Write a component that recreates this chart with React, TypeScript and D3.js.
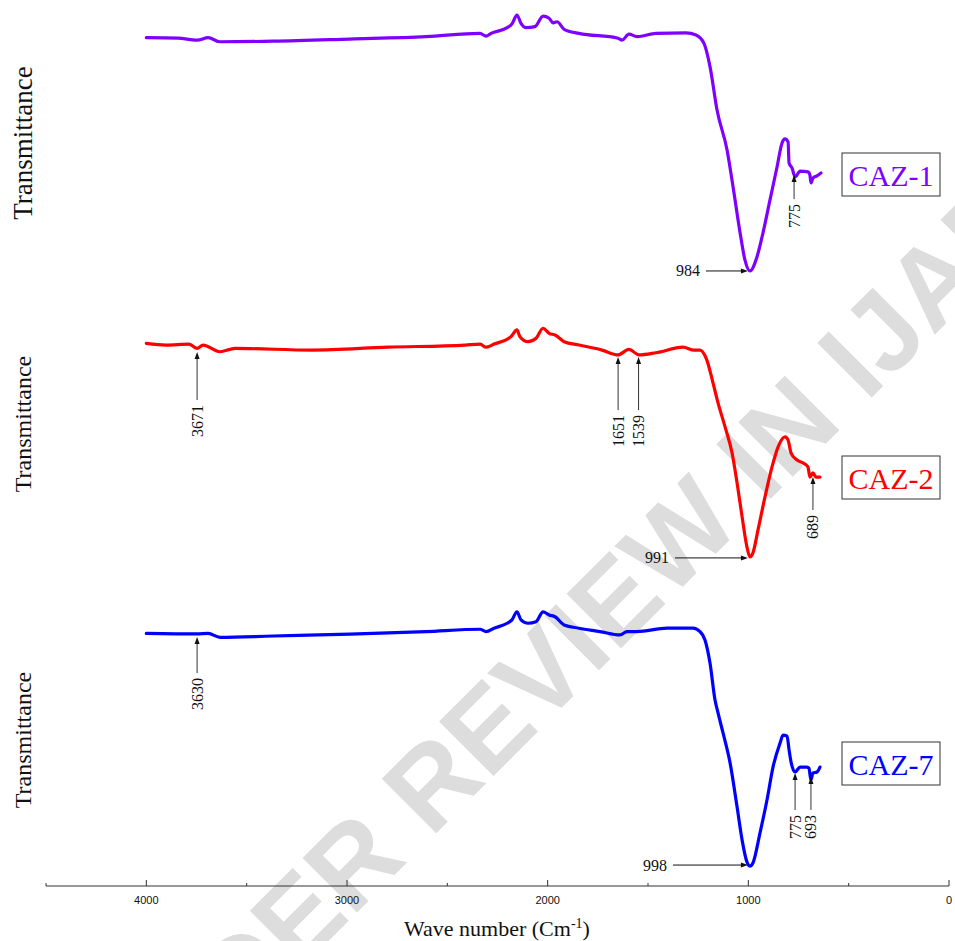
import React from 'react'
import * as d3 from 'd3'

// [wave number (cm-1), transmittance (a.u.)]
const caz1 = [
  [4000, 91.6], [3842, 91.4], [3747, 90.7], [3692, 91.6], [3633, 90.1], [3369, 90.3],
  [2985, 91.1], [2606, 92.0], [2337, 93.2], [2307, 92.2], [2282, 93.2], [2202, 95.3],
  [2178, 96.7], [2153, 100], [2133, 96.9], [2108, 95.3], [2063, 95.7], [2023, 99.6],
  [1993, 98.8], [1973, 97.1], [1953, 97.5], [1918, 94.7], [1844, 93.2], [1649, 91.4],
  [1629, 90.7], [1595, 92.9], [1555, 92.0], [1460, 93.2], [1311, 93.4], [1261, 92.6],
  [1221, 89.5], [1191, 80.9], [1156, 64.8], [1106, 50.0], [1076, 36.3], [1041, 19.3],
  [1017, 9.3], [992, 5.2], [957, 10.4], [927, 19.3], [892, 31.5], [857, 43.7],
  [832, 52.6], [817, 54.1], [802, 53.0], [797, 45.2], [782, 43.3], [767, 40.0],
  [742, 42.2], [703, 41.9], [693, 40.7], [688, 37.8], [678, 39.6], [658, 40.4], [638, 41.5],
]

const caz2 = [
  [4000, 91.1], [3902, 90.4], [3787, 90.8], [3747, 89.0], [3717, 90.4], [3633, 87.6],
  [3558, 89.0], [3174, 88.3], [2795, 89.5], [2412, 90.4], [2337, 90.8], [2307, 89.5],
  [2267, 90.8], [2183, 93.9], [2153, 96.7], [2138, 93.9], [2098, 91.8], [2058, 93.2],
  [2023, 97.4], [1993, 95.3], [1963, 94.6], [1918, 91.8], [1844, 90.4], [1729, 88.3],
  [1649, 86.3], [1595, 88.6], [1545, 86.3], [1460, 87.2], [1325, 89.5], [1271, 88.3],
  [1241, 88.3], [1207, 84.2], [1176, 74.6], [1151, 66.3], [1116, 56.3], [1081, 45.4],
  [1056, 32.9], [1031, 18.8], [1007, 6.3], [992, 2.1], [977, 3.8], [952, 13.3],
  [917, 27.1], [882, 39.6], [852, 47.9], [817, 52.1], [802, 50.8], [787, 45.4],
  [757, 42.5], [728, 41.3], [703, 39.6], [693, 35.4], [678, 37.1], [663, 35.4], [643, 35.4],
]

const caz7 = [
  [4000, 91.0], [3747, 90.8], [3692, 91.0], [3633, 89.5], [3369, 90.0], [2985, 90.7],
  [2606, 91.7], [2337, 92.6], [2307, 91.7], [2267, 93.0], [2202, 94.9], [2178, 96.2],
  [2153, 99.3], [2133, 96.2], [2098, 94.9], [2058, 95.5], [2023, 99.3], [1993, 98.1],
  [1963, 97.4], [1918, 94.2], [1844, 93.0], [1739, 91.7], [1639, 90.4], [1605, 91.7],
  [1555, 91.7], [1405, 93.0], [1276, 93.0], [1241, 91.7], [1216, 88.5], [1191, 79.6],
  [1166, 65.4], [1151, 60.4], [1126, 52.7], [1091, 41.2], [1056, 24.2], [1031, 11.5],
  [1007, 3.1], [992, 1.5], [977, 2.7], [942, 14.2], [907, 26.9], [877, 39.6],
  [842, 48.8], [827, 51.9], [807, 51.5], [797, 46.2], [787, 41.5], [767, 37.7],
  [742, 39.6], [708, 39.6], [698, 39.2], [688, 34.6], [678, 37.3], [658, 37.7], [643, 39.6],
]

// peak labels: label, where the arrow points (wave number, transmittance)
const caz1Peaks = [
  { label: '984', wn: 1002, t: 5.2, kind: 'h', len: 42 },
  { label: '775', wn: 772, t: 40.7, kind: 'v', len: 24 },
]
const caz2Peaks = [
  { label: '3671', wn: 3747, t: 87.5, kind: 'v', len: 48 },
  { label: '1651', wn: 1649, t: 85.4, kind: 'v', len: 53 },
  { label: '1539', wn: 1547, t: 85.4, kind: 'v', len: 53 },
  { label: '991', wn: 1002, t: 1.7, kind: 'h', len: 73 },
  { label: '689', wn: 678, t: 35.4, kind: 'v', len: 33 },
]
const caz7Peaks = [
  { label: '3630', wn: 3747, t: 89.6, kind: 'v', len: 36 },
  { label: '998', wn: 1002, t: 1.9, kind: 'h', len: 75 },
  { label: '775', wn: 767, t: 37.3, kind: 'v', len: 37 },
  { label: '693', wn: 688, t: 35.8, kind: 'v', len: 33 },
]

const majorTicks = [4000, 3000, 2000, 1000, 0]
const minorTicks = [4500, 3500, 2500, 1500, 500]

const panels = [
  { name: 'CAZ-1', color: '#8000ff', data: caz1, peaks: caz1Peaks, yRange: [285, 15], labelY: 143, labelSize: 27, boxY: 153 },
  { name: 'CAZ-2', color: '#ff0000', data: caz2, peaks: caz2Peaks, yRange: [562, 322], labelY: 424, labelSize: 24, boxY: 456 },
  { name: 'CAZ-7', color: '#0000ff', data: caz7, peaks: caz7Peaks, yRange: [870, 610], labelY: 740, labelSize: 24, boxY: 742 },
]

const serif = '"Liberation Serif", "Times New Roman", Times, serif'
const sans = '"Liberation Sans", Arial, Helvetica, sans-serif'

const W = 955
const H = 941
const axisY = 886

const x = d3.scaleLinear().domain([4500, 0]).range([46, 949])

const Peak = ({ p, y }) => {
  const px = x(p.wn)
  const py = y(p.t)
  if (p.kind === 'h') {
    const x0 = px - p.len
    return (
      <g>
        <line x1={x0} y1={py} x2={px - 6} y2={py} stroke="#111" strokeWidth={1} />
        <path d={`M${px},${py} L${px - 7},${py - 2.5} L${px - 7},${py + 2.5} Z`} fill="#111" />
        <text x={x0 - 6} y={py} textAnchor="end" dominantBaseline="central"
          fontFamily={serif} fontSize={16} fill="#111">{p.label}</text>
      </g>
    )
  }
  const y1 = py + p.len
  return (
    <g>
      <line x1={px} y1={py + 6} x2={px} y2={y1} stroke="#333" strokeWidth={1} />
      <path d={`M${px},${py} L${px - 2.5},${py + 7} L${px + 2.5},${py + 7} Z`} fill="#111" />
      <text transform={`translate(${px},${y1 + 5}) rotate(-90)`} textAnchor="end"
        dominantBaseline="central" fontFamily={serif} fontSize={16} fill="#111">{p.label}</text>
    </g>
  )
}

const Panel = ({ panel }) => {
  const y = d3.scaleLinear().domain([0, 100]).range(panel.yRange)
  const line = d3.line()
    .x(d => x(d[0]))
    .y(d => y(d[1]))
    .curve(d3.curveMonotoneX)
  return (
    <g>
      <path d={line(panel.data)} fill="none" stroke={panel.color} strokeWidth={3.2}
        strokeLinejoin="round" strokeLinecap="round" />
      {panel.peaks.map(p => <Peak key={p.label + p.wn} p={p} y={y} />)}
      <text transform={`translate(23,${panel.labelY}) rotate(-90)`} textAnchor="middle"
        dominantBaseline="central" fontFamily={serif} fontSize={panel.labelSize} fill="#111">
        Transmittance
      </text>
      <rect x={842} y={panel.boxY} width={98} height={43} fill="#fff" stroke="#333" strokeWidth={1} />
      <text x={891} y={panel.boxY + 22} textAnchor="middle" dominantBaseline="central"
        fontFamily={serif} fontSize={30} fill={panel.color}>{panel.name}</text>
    </g>
  )
}

export default function App() {
  return (
    <svg width={W} height={H} style={{ position: 'absolute', left: 0, top: 0, background: '#fff' }}>
      <rect width={W} height={H} fill="#fff" />
      {/* watermark, runs off the page like in the source */}
      <text transform="translate(560,655) rotate(-45)" textAnchor="middle" dominantBaseline="central"
        fontFamily={sans} fontSize={112} fontWeight="bold" fill="#dddddd">UNDER REVIEW IN IJAR</text>

      {panels.map(p => <Panel key={p.name} panel={p} />)}

      {/* x axis */}
      <line x1={x(4500)} x2={x(0)} y1={axisY} y2={axisY} stroke="#333" strokeWidth={1.2} />
      {majorTicks.map(t => (
        <g key={t}>
          <line x1={x(t)} x2={x(t)} y1={axisY} y2={axisY - 6} stroke="#333" strokeWidth={1} />
          <text x={x(t)} y={axisY + 14} textAnchor="middle" dominantBaseline="central"
            fontFamily={sans} fontSize={11} fill="#111">{t}</text>
        </g>
      ))}
      {minorTicks.map(t => (
        <line key={t} x1={x(t)} x2={x(t)} y1={axisY} y2={axisY - 3} stroke="#333" strokeWidth={1} />
      ))}
      <text x={497} y={936} textAnchor="middle" fontFamily={serif} fontSize={22} fill="#111">
        Wave number (Cm<tspan dy={-8} fontSize={14}>-1</tspan><tspan dy={8}>)</tspan>
      </text>
    </svg>
  )
}
